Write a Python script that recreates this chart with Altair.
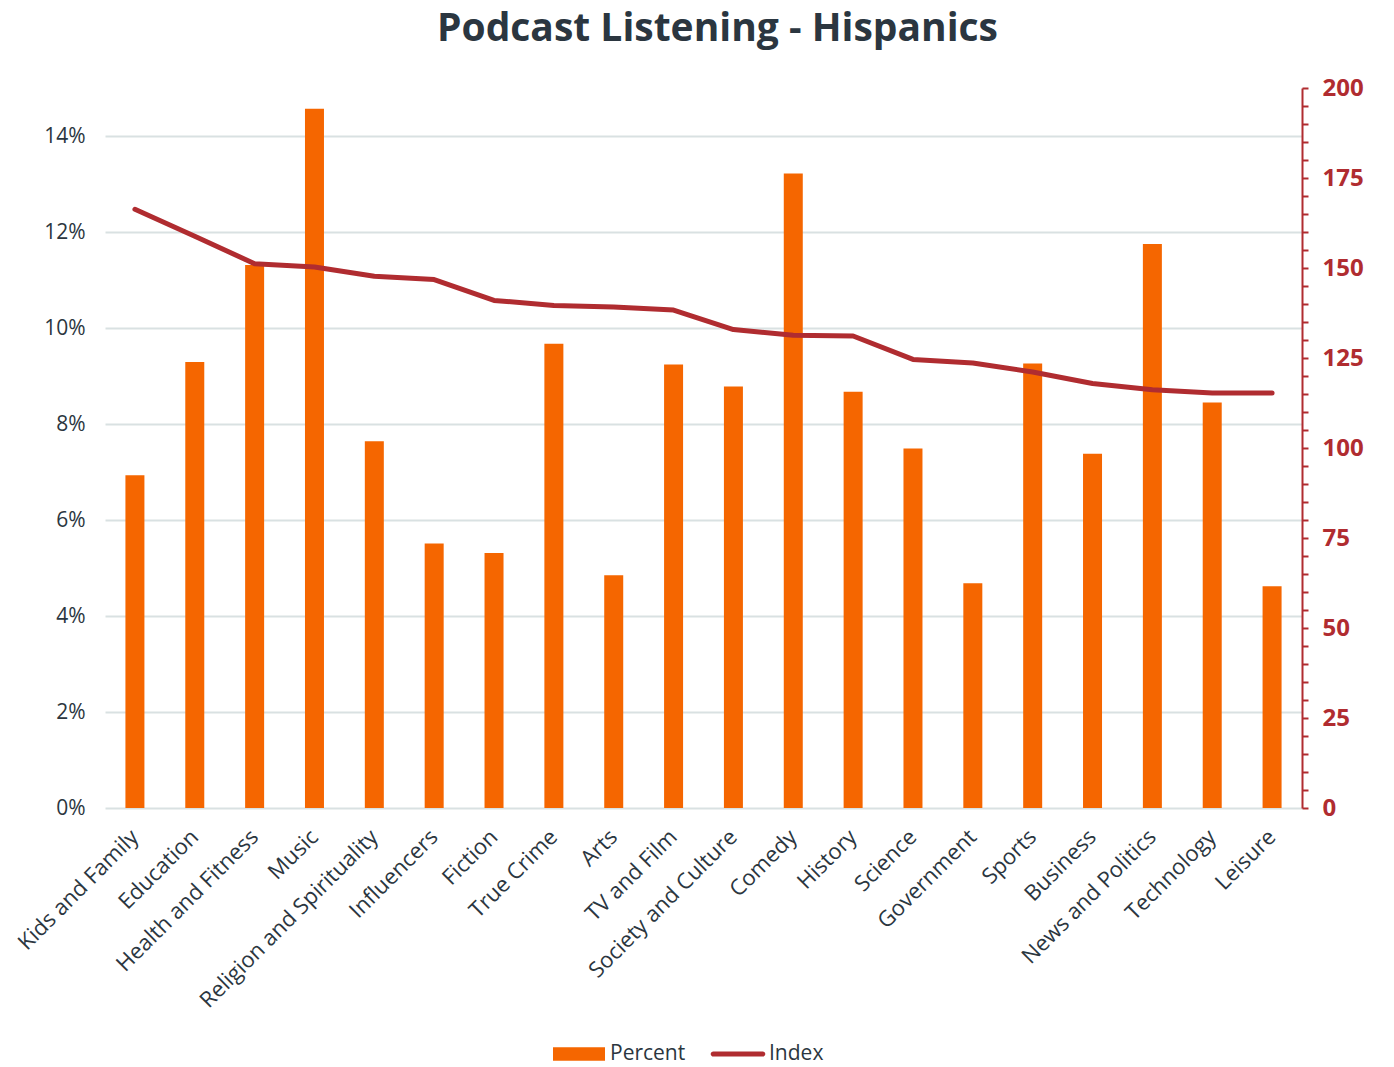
import altair as alt
import pandas as pd

categories = ["Kids and Family", "Education", "Health and Fitness", "Music",
              "Religion and Spirituality", "Influencers", "Fiction", "True Crime",
              "Arts", "TV and Film", "Society and Culture", "Comedy", "History",
              "Science", "Government", "Sports", "Business", "News and Politics",
              "Technology", "Leisure"]
percent = [6.93, 9.29, 11.31, 14.57, 7.64, 5.51, 5.31, 9.67, 4.85, 9.24,
           8.78, 13.22, 8.67, 7.49, 4.68, 9.26, 7.38, 11.75, 8.45, 4.62]
index_vals = [166.3, 158.8, 151.2, 150.3, 147.7, 146.8, 141.0, 139.6, 139.2, 138.3,
              132.9, 131.3, 131.1, 124.6, 123.6, 121.1, 117.9, 116.2, 115.3, 115.3]
series_names = ["Percent", "Index"]

ORANGE = "#f56600"
RED = "#b02c30"
TEXT = "#2b3640"
GRID = "#d9e1e2"
FONT = "Open Sans"

df = pd.DataFrame({"category": categories, "percent": percent, "index": index_vals})
legend_df = pd.DataFrame({"series": series_names})

x_enc = alt.X("category:N", sort=categories,
              scale=alt.Scale(paddingInner=0, paddingOuter=0),
              axis=alt.Axis(title=None, labelAngle=-45, ticks=False, domain=False,
                            labelAlign="right", labelBaseline="middle",
                            labelFontSize=22, labelColor=TEXT, labelFont=FONT,
                            labelPadding=25, labelLimit=0, grid=False))

bars = alt.Chart(df).mark_bar(color=ORANGE, size=19).encode(
    x=x_enc,
    y=alt.Y("percent:Q",
            scale=alt.Scale(domain=[0, 15], nice=False),
            axis=alt.Axis(title=None, values=[0, 2, 4, 6, 8, 10, 12, 14],
                          labelExpr="datum.value + '%'", ticks=False, domain=False,
                          grid=True, gridColor=GRID, gridWidth=2,
                          labelFontSize=21, labelColor=TEXT, labelFont=FONT,
                          labelPadding=20))
)

line = alt.Chart(df).mark_line(color=RED, strokeWidth=5, strokeCap="round",
                               strokeJoin="round").encode(
    x=x_enc,
    y=alt.Y("index:Q",
            scale=alt.Scale(domain=[0, 200], nice=False),
            axis=alt.Axis(title=None, orient="right", values=list(range(0, 201, 5)),
                          labelExpr="datum.value % 25 == 0 ? datum.label : ''",
                          tickSize=6, tickWidth=2, tickColor=RED,
                          domain=True, domainColor=RED, domainWidth=2,
                          grid=False, labelFontSize=24, labelFontWeight="bold",
                          labelColor=RED, labelFont=FONT, labelPadding=14))
)

rect_path = "M-1,-0.26H1V0.26H-1Z"
line_path = ("M-0.95,-0.1H0.95A0.1,0.1 0 0 1 0.95,0.1"
             "H-0.95A0.1,0.1 0 0 1 -0.95,-0.1Z")

leg = alt.Legend(title=None, orient="none", legendX=448, legendY=940,
                 direction="horizontal", labelFontSize=21, labelColor=TEXT,
                 labelFont=FONT, symbolSize=2704, symbolStrokeWidth=0,
                 labelOffset=5, columnPadding=24, symbolOpacity=1)

legend_layer = alt.Chart(legend_df).mark_point(filled=True, opacity=1, clip=True,
                                               size=2704).encode(
    x=alt.value(-500),
    y=alt.value(-500),
    color=alt.Color("series:N",
                    scale=alt.Scale(domain=series_names, range=[ORANGE, RED]),
                    legend=leg),
    shape=alt.Shape("series:N",
                    scale=alt.Scale(domain=series_names, range=[rect_path, line_path]),
                    legend=leg),
)

chart = alt.layer(bars, line, legend_layer).resolve_scale(
    y="independent"
).properties(
    width=1197, height=720,
    background="white",
    autosize=alt.AutoSizeParams(type="none"),
    padding={"left": 105, "top": 88, "right": 92, "bottom": 259},
    title=alt.TitleParams("Podcast Listening - Hispanics", fontSize=39,
                          fontWeight="bold", color=TEXT, font=FONT,
                          anchor="middle", offset=27, dx=14),
).configure_view(strokeWidth=0, stroke="transparent").configure_legend(
    labelColor=TEXT
)

chart.save("out.html", embed_options={"renderer": "svg", "actions": False})
